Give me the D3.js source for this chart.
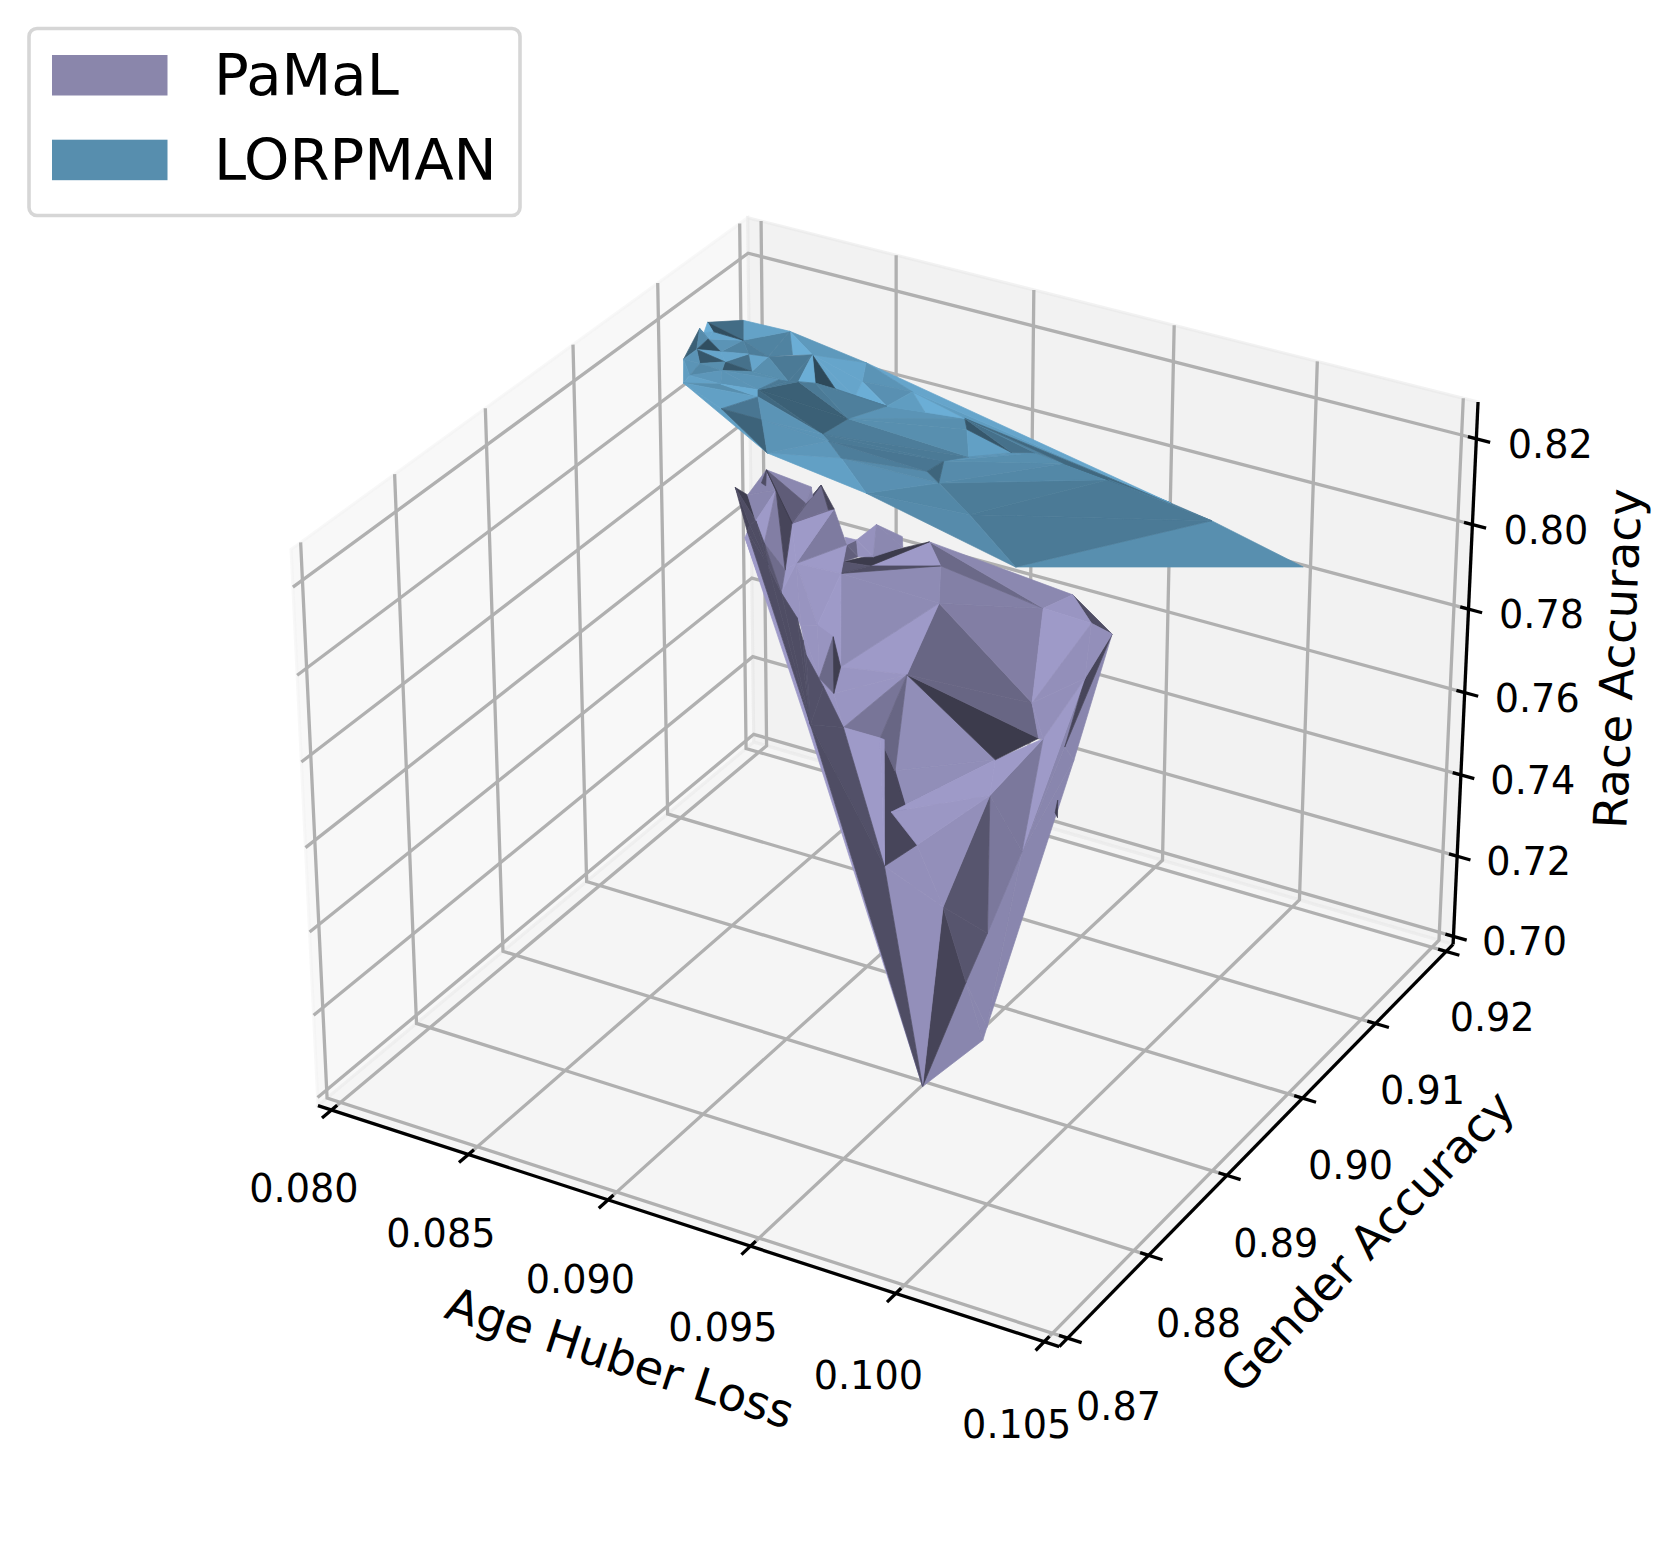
<!DOCTYPE html><html><head><meta charset="utf-8"><script src="https://d3js.org/d3.v7.min.js"></script>
<style>html,body{margin:0;background:#fff}text{font-family:"DejaVu Sans";fill:#000}</style></head><body><svg id="s" width="1661" height="1568"></svg><script>
// ---- values ----
const xTicks=[.080,.085,.090,.095,.100,.105];
const yTicks=[.87,.88,.89,.90,.91,.92];
const zTicks=[.70,.72,.74,.76,.78,.80,.82];
const xLimits=[.0795,.1055],yLimits=[.869,.921],zLimits=[.698,.8285];
const seriesNames=["PaMaL","LORPMAN"];
const lorpmanX=[.07944,.08026,.08179,.08092,.07989,.07970,.07945,.08007,.08086,.08007,.08001,.08118,.08075,.08151,.08209,.08217,.08140,.08061,.08075,.08181,.08291,.08310,.08340,.08365,.08313,.08480,.08412,.08263,.08662,.08606,.08591,.08315,.08262,.08398,.08516,.08523,.08554,.08473,.08681,.08775,.08894,.08933,.09114,.09172,.09276,.09022,.08972,.08963,.09028,.08628,.08712,.08881,.09197,.09460,.09807,.10160,.09434,.09656];
const lorpmanY=[.9161,.9178,.9185,.9156,.9153,.9148,.9151,.9111,.9085,.9127,.9143,.9125,.9134,.9143,.9148,.9125,.9114,.9113,.9096,.9099,.9108,.9127,.9129,.9133,.9168,.9140,.9138,.9160,.9142,.9113,.9086,.9100,.9073,.9077,.9044,.9159,.9139,.9181,.9168,.9151,.9160,.9149,.9142,.9151,.9151,.9120,.9106,.9088,.9080,.9081,.9068,.9041,.9059,.9023,.9148,.9135,.9151,.9151];
const lorpmanZ=[.8103,.8097,.8086,.8092,.8100,.8101,.8103,.8098,.8093,.8098,.8099,.8090,.8094,.8088,.8084,.8084,.8089,.8094,.8093,.8086,.8078,.8077,.8075,.8073,.8077,.8065,.8070,.8080,.8052,.8056,.8057,.8077,.8080,.8071,.8063,.8062,.8060,.8066,.8051,.8044,.8036,.8033,.8020,.8016,.8009,.8027,.8030,.8031,.8027,.8055,.8049,.8037,.8015,.7996,.7972,.7947,.7998,.7982];
const lorpmanFaces=[[53,55,54],[53,54,52],[52,54,56],[48,52,56],[48,56,44],[48,44,46],[46,44,43],[45,43,46],[51,48,52],[51,52,53],[50,48,51],[50,47,48],[34,50,51],[34,49,50],[49,47,50],[49,46,47],[46,47,48],[30,29,45],[30,45,46],[30,46,49],[29,28,40],[29,40,41],[29,41,45],[41,42,45],[42,43,45],[40,42,41],[40,43,42],[40,44,43],[39,40,28],[38,40,39],[38,57,40],[40,57,44],[44,57,56],[56,57,54],[37,57,38],[37,38,35],[35,38,28],[38,39,28],[35,28,36],[24,37,35],[2,37,24],[24,35,36],[24,36,25],[25,36,28],[24,25,26],[22,24,23],[24,26,23],[2,24,27],[2,27,14],[3,2,14],[1,2,3],[14,24,22],[14,22,15],[13,14,15],[3,14,13],[12,3,13],[11,13,15],[11,15,16],[12,13,11],[16,15,22],[10,12,3],[4,3,10],[0,1,3],[0,3,4],[5,0,4],[5,4,10],[6,5,10],[7,6,9],[6,10,9],[9,10,12],[9,12,11],[9,11,17],[7,9,17],[7,17,18],[7,18,8],[17,11,16],[17,16,18],[18,16,19],[8,18,19],[16,21,20],[16,20,19],[8,19,31],[19,20,31],[20,23,29],[20,29,30],[20,30,31],[23,26,29],[26,28,29],[26,25,28],[21,22,20],[22,23,20],[8,31,32],[8,32,34],[32,31,33],[32,33,34],[31,30,33],[33,30,49],[33,49,34]];
const lorpmanLight=[.82,.70,.70,.71,.78,.80,.82,.85,.78,.80,.83,.80,.92,.87,.72,.68,.58,.72,.70,.70,.85,.82,.82,.92,.85,.5,.65,.75,.9,1,.9,.6,.6,.72,.95,.85,.83,.9,1,.95,.88,.95,.95,.83,.42,.7,1,1,.75,.75,.93,.7,.82,.95,.72,.75,.65,.5,.95,.82,.85,.95,.62,.45,1,.95,.85,.55,.8,.45,.95,.5,.85,.85,.9,.82,.78,.87,.93,.85,.85,.82,.98,.55,.55,.6,.7,.73,.72,.7,.7,.92,.92,.68,.57,.85,.85,.85];
const pamalX=[.08120,.08204,.08377,.08394,.08408,.08464,.08482,.08569,.08554,.08597,.08644,.08745,.08758,.08841,.08908,.09376,.09550,.09296,.09471,.08948,.08586,.08423,.08673,.08579,.08623,.08673,.08929,.08701,.09372,.09435,.09320,.09451,.09515,.08784,.08918,.08933,.08639,.08711,.08667,.08643,.08517,.08572,.08409,.08394,.08358,.08263,.08203,.08222,.08172,.08232,.08290,.08218,.08330,.08494,.08542,.08572,.09087,.09472,.09612,.09609,.09531,.09575,.09515,.09500,.09489,.09327,.09346,.09045,.09167,.09007,.09463,.08218,.08672,.08218,.08660,.08380,.09571,.09590,.09576];
const pamalY=[.9135,.9146,.9144,.9140,.9146,.9136,.9137,.9123,.9126,.9126,.9135,.9133,.9129,.9134,.9125,.9128,.9116,.9119,.9118,.9109,.9110,.9109,.9117,.9115,.9119,.9121,.9075,.9070,.9078,.9064,.9050,.9064,.9094,.9045,.9045,.9045,.9082,.9058,.9060,.9063,.9083,.9085,.9095,.9105,.9126,.9138,.9140,.9139,.9133,.9123,.9114,.9120,.9105,.9086,.9077,.9071,.8992,.8906,.8932,.8938,.9063,.9059,.9015,.8977,.8954,.8982,.9034,.9015,.9005,.9033,.9055,.9117,.9042,.9114,.9042,.9136,.9040,.9033,.9035];
const pamalZ=[.7772,.7813,.7805,.7790,.7812,.7777,.7781,.7731,.7742,.7743,.7775,.7767,.7750,.7770,.7738,.7749,.7706,.7716,.7714,.7680,.7685,.7681,.7708,.7704,.7718,.7724,.7558,.7542,.7568,.7518,.7467,.7520,.7628,.7451,.7451,.7450,.7585,.7499,.7504,.7515,.7588,.7596,.7629,.7666,.7741,.7786,.7790,.7788,.7766,.7729,.7699,.7721,.7667,.7598,.7567,.7545,.7260,.6952,.7048,.7068,.7517,.7501,.7342,.7206,.7124,.7226,.7412,.7345,.7306,.7408,.7486,.7709,.7441,.7700,.7439,.7778,.7435,.7408,.7414];
const pamalFaces=[[57,58,64],[58,59,64],[59,62,64],[59,61,62],[16,61,60],[60,61,62],[32,60,62],[32,16,60],[31,32,62],[66,62,63],[66,31,62],[57,64,65],[65,64,63],[65,63,66],[57,65,56],[56,65,68],[68,66,65],[26,30,69],[69,30,67],[35,68,56],[35,69,68],[67,30,66],[30,31,66],[67,66,68],[26,29,30],[26,28,29],[26,19,28],[19,17,28],[14,17,19],[13,17,14],[13,15,17],[15,16,18],[15,18,17],[17,18,28],[18,16,32],[18,32,28],[28,32,31],[28,31,29],[19,26,27],[20,19,27],[20,14,19],[13,14,22],[23,13,22],[23,22,20],[22,14,20],[7,24,23],[7,9,24],[8,9,7],[9,25,24],[9,10,25],[10,11,12],[10,12,25],[21,7,20],[21,6,7],[21,44,6],[44,4,5],[44,5,6],[4,6,5],[44,75,4],[75,3,4],[21,20,41],[20,27,41],[21,41,40],[21,40,42],[21,42,43],[21,43,44],[40,41,39],[41,27,36],[41,36,39],[39,37,38],[27,26,37],[37,26,33],[38,37,33],[40,39,55],[39,38,55],[38,33,55],[36,37,39],[36,27,37],[33,26,34],[34,26,69],[34,69,35],[33,34,56],[34,35,56],[73,71,72],[73,72,74],[74,72,57],[0,51,71],[71,51,52],[71,52,72],[52,42,72],[42,53,72],[53,54,72],[54,55,72],[55,38,72],[38,33,72],[33,56,72],[72,56,57],[0,48,49],[0,49,51],[48,1,45],[48,45,49],[49,45,50],[46,1,47],[45,43,50],[45,44,43],[1,2,75],[1,75,44],[1,44,45],[2,3,75],[50,43,42],[50,42,52],[49,50,52],[49,52,51],[76,77,78]];
const pamalLight=[.87,.87,.87,.87,.87,.87,.87,.45,1,.78,.78,.44,.55,.55,.93,.93,.93,.92,.92,.45,.45,1,1,.98,.38,.66,.66,.82,.83,.68,.88,.5,.97,1,.93,.93,.93,.93,1,.9,.9,1,.38,.55,.5,.62,.66,.95,.95,.95,.88,.88,1,.8,1,.72,.72,.45,.6,.5,.98,1,.96,.96,1,1,.96,1,.96,.96,.97,.97,.97,.96,.96,.97,.68,.4,.76,.66,.66,1,1,1,1,1,.45,.5,.5,.5,.5,.5,.52,.52,.52,.52,.5,.4,.5,.87,.87,1,.5,.82,.45,.88,.6,.38,.85,.7,.55,.5,.5,.4];
// ---- projection: matplotlib's default view (elev 30, azim -60) ----
const BX=.5952,BZ=.4464;
const scaleX=d3.scaleLinear().domain(xLimits).range([-BX,BX]);
const scaleY=d3.scaleLinear().domain(yLimits).range([-BX,BX]);
const scaleZ=d3.scaleLinear().domain(zLimits).range([-BZ,BZ]);
const pixelX=d3.scaleLinear().domain([0,.1]).range([896,1609.4]);
const pixelY=d3.scaleLinear().domain([0,.1]).range([755,45]);
function project(x,y,z){const a=scaleX(x),b=scaleY(y),c=scaleZ(z);
  const xc=.866025*a+.5*b,yc=-.25*a+.433013*b+.866025*c,d=10-(.433013*a-.75*b+.5*c);
  return [pixelX(xc/d),pixelY(yc/d)];}
const svg=d3.select("#s");
const line=d3.line();
const [x0,x1]=xLimits,[y0,y1]=yLimits,[z0,z1]=zLimits;
const panes=[
 {p:[[x0,y0,z0],[x0,y1,z0],[x0,y1,z1],[x0,y0,z1]],c:"rgb(242,242,242)"},
 {p:[[x0,y1,z0],[x1,y1,z0],[x1,y1,z1],[x0,y1,z1]],c:"rgb(230,230,230)"},
 {p:[[x0,y0,z0],[x1,y0,z0],[x1,y1,z0],[x0,y1,z0]],c:"rgb(236,236,236)"}];
svg.append("g").selectAll("path").data(panes).join("path")
  .attr("d",d=>line(d.p.map(q=>project(...q)))+"Z")
  .attr("fill",d=>d.c).attr("fill-opacity",.5).attr("stroke",d=>d.c).attr("stroke-opacity",.5).attr("stroke-width",3);
const grid=[];
xTicks.forEach(x=>{grid.push([[x,y0,z0],[x,y1,z0],[x,y1,z1]]);});
yTicks.forEach(y=>{grid.push([[x1,y,z0],[x0,y,z0],[x0,y,z1]]);});
zTicks.forEach(z=>{grid.push([[x1,y1,z],[x0,y1,z],[x0,y0,z]]);});
svg.append("g").selectAll("path").data(grid).join("path")
  .attr("d",d=>line(d.map(q=>project(...q)))).attr("fill","none").attr("stroke","#b0b0b0").attr("stroke-width",3.3);
const axes=[[[x0,y0,z0],[x1,y0,z0]],[[x1,y0,z0],[x1,y1,z0]],[[x1,y1,z0],[x1,y1,z1]]];
const dx=x1-x0,dy=y1-y0;
const ticks=[];
xTicks.forEach(x=>ticks.push([[x,y0-.02*dy,z0],[x,y0+.012*dy,z0]]));
yTicks.forEach(y=>ticks.push([[x1-.011*dx,y,z0],[x1+.018*dx,y,z0]]));
zTicks.forEach(z=>ticks.push([[x1-.011*dx,y1,z],[x1+.018*dx,y1,z]]));
svg.append("g").selectAll("path").data(axes.concat(ticks)).join("path")
  .attr("d",d=>line(d.map(q=>project(...q)))).attr("fill","none").attr("stroke","#000").attr("stroke-width",3.3);
function tickLabels(vals,pos,ox,oy,fmt){
  const fx=d3.scaleLinear().domain(d3.extent(vals)).range(ox),fy=d3.scaleLinear().domain(d3.extent(vals)).range(oy);
  svg.append("g").selectAll("text").data(vals).join("text")
  .attr("x",d=>project(...pos(d))[0]+fx(d)).attr("y",d=>project(...pos(d))[1]+fy(d))
  .attr("text-anchor","middle").attr("dominant-baseline","central").attr("font-size",38.2).text(fmt);}
tickLabels(xTicks,x=>[x,y0,z0],[-27.5,-27.5],[79,83],d=>d.toFixed(3));
tickLabels(yTicks,y=>[x1,y,z0],[51,46],[69,67],d=>d.toFixed(2));
tickLabels(zTicks,z=>[x1,y1,z],[71,74],[6,6],d=>d.toFixed(2));
[["Age Huber Loss",620,1358,18],["Gender Accuracy",1367.5,1241.5,-46],["Race Accuracy",1618,658.5,-87.4]].forEach(([t,a,b,r])=>{
  svg.append("text").attr("transform",`translate(${a},${b}) rotate(${r})`).attr("text-anchor","middle").attr("dominant-baseline","central").attr("font-size",46.4).text(t);});
function surface(X,Y,Z,faces,light,base){
  const col=d3.scaleLinear().domain([0,1]).range(["#000",base]);
  const pts=X.map((x,i)=>project(x,Y[i],Z[i]));
  svg.append("g").selectAll("path").data(faces).join("path")
    .attr("d",f=>line(f.map(i=>pts[i]))+"Z")
    .attr("fill",(f,i)=>col(light[i])).attr("stroke",(f,i)=>col(light[i])).attr("stroke-width",.7).attr("stroke-linejoin","round");
}
surface(pamalX,pamalY,pamalZ,pamalFaces,pamalLight,"#9e9ac8");
surface(lorpmanX,lorpmanY,lorpmanZ,lorpmanFaces,lorpmanLight,"#6baed6");
// legend
const lg=svg.append("g");
lg.append("rect").attr("x",29).attr("y",28.5).attr("width",491).attr("height",187).attr("rx",8).attr("fill","#fff").attr("stroke","#d6d6d6").attr("stroke-width",3.6);
const swatchY=d3.scalePoint().domain(seriesNames).range([55,139.7]);
const swatchColor=d3.scaleOrdinal().domain(seriesNames).range(["#8a86ab","#578eae"]);
seriesNames.forEach(n=>{
  lg.append("rect").attr("x",52).attr("y",swatchY(n)).attr("width",115.5).attr("height",40.5).attr("fill",swatchColor(n));
  lg.append("text").attr("x",214).attr("y",swatchY(n)+40).attr("font-size",57.7).text(n);
});
</script></body></html>
